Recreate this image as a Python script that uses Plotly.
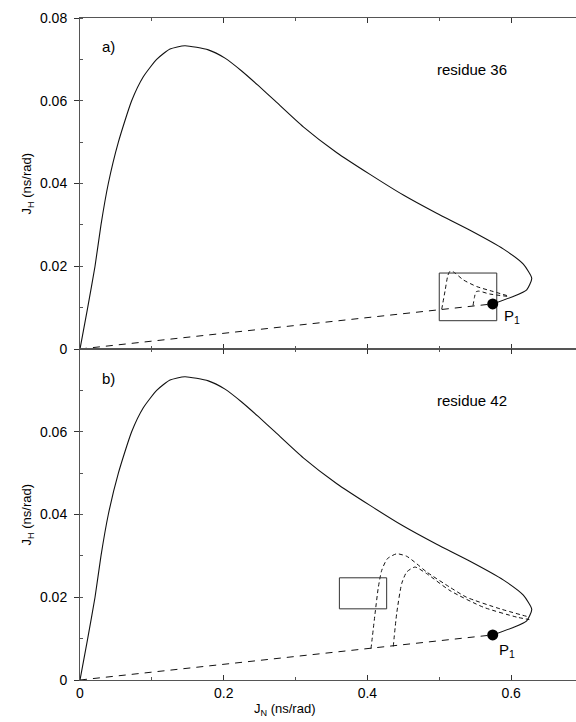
import plotly.graph_objects as go

# ---- data ----
# solid curve J_N vs J_H (same in both panels)
curve_jn = [0.0, 0.0107, 0.0209, 0.0292, 0.0394, 0.0534, 0.0719, 0.0881, 0.1067, 0.1253,
            0.146, 0.1786, 0.2018, 0.225, 0.248, 0.270, 0.3108, 0.357, 0.4036, 0.450,
            0.4964, 0.5428, 0.589, 0.617, 0.6287, 0.6217, 0.603, 0.5744]
curve_jh = [0.0, 0.010, 0.020, 0.030, 0.040, 0.050, 0.060, 0.0658, 0.0700, 0.0725,
            0.0733, 0.0723, 0.0703, 0.0672, 0.0637, 0.0602, 0.0537, 0.0475, 0.0422, 0.0372,
            0.0328, 0.0287, 0.0242, 0.0205, 0.0171, 0.0143, 0.0127, 0.0109]

p1_jn = [0.5744]
p1_jh = [0.0109]

# straight dashed line from origin to P1
line_jn = [0.0, 0.5744]
line_jh = [0.0, 0.0109]

# panel a) dashed curves (residue 36)
a1_jn = [0.5034, 0.508, 0.512, 0.515, 0.520, 0.5335, 0.552, 0.575, 0.5985]
a1_jh = [0.0096, 0.0140, 0.0178, 0.0188, 0.0186, 0.0167, 0.0151, 0.0139, 0.0127]
a2_jn = [0.547, 0.549, 0.551, 0.555, 0.570, 0.596]
a2_jh = [0.0105, 0.0125, 0.0138, 0.0140, 0.0133, 0.0127]
box_a_jn = [0.500, 0.580, 0.580, 0.500, 0.500]
box_a_jh = [0.00684, 0.00684, 0.01836, 0.01836, 0.00684]

# panel b) dashed curves (residue 42)
b1_jn = [0.405, 0.4106, 0.4152, 0.4199, 0.4277, 0.4407, 0.4547, 0.4686, 0.4825, 0.515, 0.538, 0.5846, 0.6254]
b1_jh = [0.00754, 0.0160, 0.0224, 0.0265, 0.0293, 0.0305, 0.0299, 0.0281, 0.0261, 0.0224, 0.0200, 0.0172, 0.0152]
b2_jn = [0.436, 0.4407, 0.4477, 0.4547, 0.4662, 0.4825, 0.515, 0.5613, 0.6078, 0.6254]
b2_jh = [0.0081, 0.0160, 0.0233, 0.0261, 0.0273, 0.0257, 0.0216, 0.0176, 0.0152, 0.0146]
box_b_jn = [0.361, 0.4268, 0.4268, 0.361, 0.361]
box_b_jh = [0.0172, 0.0172, 0.0247, 0.0247, 0.0172]

x_ticks = [0, 0.2, 0.4, 0.6]
x_ticktext = ["0", "0.2", "0.4", "0.6"]
y_ticks_top = [0, 0.02, 0.04, 0.06, 0.08]
y_ticktext_top = ["0", "0.02", "0.04", "0.06", "0.08"]
y_ticks_bot = [0, 0.02, 0.04, 0.06]
y_ticktext_bot = ["0", "0.02", "0.04", "0.06"]

FONT = "Liberation Sans, Arial, Helvetica, sans-serif"
INK = "#111111"

fig = go.Figure()

def add_panel(xa, ya, extra_curves, box_x, box_y):
    fig.add_trace(go.Scatter(x=line_jn, y=line_jh, mode="lines", xaxis=xa, yaxis=ya,
                             line=dict(color=INK, width=1, dash="7px,6px")))
    for cx, cy in extra_curves:
        fig.add_trace(go.Scatter(x=cx, y=cy, mode="lines", xaxis=xa, yaxis=ya,
                                 line=dict(color=INK, width=1, dash="4px,3px",
                                           shape="spline", smoothing=0.6)))
    fig.add_trace(go.Scatter(x=box_x, y=box_y, mode="lines", xaxis=xa, yaxis=ya,
                             line=dict(color="#333333", width=1)))
    fig.add_trace(go.Scatter(x=curve_jn, y=curve_jh, mode="lines", xaxis=xa, yaxis=ya,
                             line=dict(color=INK, width=1.1, shape="spline", smoothing=0.55)))
    fig.add_trace(go.Scatter(x=p1_jn, y=p1_jh, mode="markers", xaxis=xa, yaxis=ya,
                             marker=dict(color="black", size=11)))

add_panel("x", "y", [(a1_jn, a1_jh), (a2_jn, a2_jh)], box_a_jn, box_a_jh)
add_panel("x2", "y2", [(b1_jn, b1_jh), (b2_jn, b2_jh)], box_b_jn, box_b_jh)

XR = [0, 0.6903]
axis_common = dict(showgrid=False, zeroline=False, showline=True, linecolor="#555555",
                   linewidth=1, tickcolor="#333333", tickfont=dict(family=FONT, size=14, color="black"))

fig.update_layout(
    width=576, height=722,
    margin=dict(l=80, r=0, t=18, b=42),
    paper_bgcolor="white", plot_bgcolor="white",
    showlegend=False,
    xaxis=dict(domain=[0, 1], anchor="y", range=XR, tickvals=x_ticks, showticklabels=False,
               ticks="inside", ticklen=5, mirror="ticks",
               minor=dict(dtick=0.1, tick0=0, ticks="inside", ticklen=3, tickcolor="#555555"),
               **axis_common),
    yaxis=dict(domain=[0.5, 1], anchor="x", range=[0, 0.08], tickvals=y_ticks_top,
               ticktext=y_ticktext_top, ticks="outside", ticklen=5, ticklabelstandoff=4,
               minor=dict(dtick=0.01, tick0=0, ticks="inside", ticklen=3, tickcolor="#555555"),
               **axis_common),
    xaxis2=dict(domain=[0, 1], anchor="y2", range=XR, tickvals=x_ticks, ticktext=x_ticktext,
                ticks="inside", ticklen=5, mirror="ticks",
                minor=dict(dtick=0.1, tick0=0, ticks="inside", ticklen=3, tickcolor="#555555"),
                **axis_common),
    yaxis2=dict(domain=[0, 0.5], anchor="x2", range=[0, 0.08], tickvals=y_ticks_bot,
                ticktext=y_ticktext_bot, ticks="outside", ticklen=5, ticklabelstandoff=4,
                minor=dict(dtick=0.01, tick0=0, ticks="inside", ticklen=3, tickcolor="#555555"),
                **axis_common),
)

ann_font = dict(family=FONT, size=15, color="black")
anns = [
    dict(text="a)", x=0.028, y=0.0731, xref="x", yref="y", xanchor="left", yanchor="middle", font=ann_font),
    dict(text="b)", x=0.028, y=0.0728, xref="x2", yref="y2", xanchor="left", yanchor="middle", font=ann_font),
    dict(text="residue 36", x=0.494, y=0.0676, xref="x", yref="y", xanchor="left", yanchor="middle", font=ann_font),
    dict(text="residue 42", x=0.494, y=0.0676, xref="x2", yref="y2", xanchor="left", yanchor="middle", font=ann_font),
    dict(text="P<sub>1</sub>", x=0.587, y=0.0078, xref="x", yref="y", xanchor="left", yanchor="middle", font=ann_font),
    dict(text="P<sub>1</sub>", x=0.580, y=0.0071, xref="x2", yref="y2", xanchor="left", yanchor="middle", font=ann_font),
    dict(text="J<sub>H</sub> (ns/rad)", x=-0.105, y=0.5, xref="paper", yref="y domain",
         textangle=-90, xanchor="center", yanchor="middle", font=dict(family=FONT, size=13, color="black")),
    dict(text="J<sub>H</sub> (ns/rad)", x=-0.105, y=0.5, xref="paper", yref="y2 domain",
         textangle=-90, xanchor="center", yanchor="middle", font=dict(family=FONT, size=13, color="black")),
    dict(text="J<sub>N</sub> (ns/rad)", x=0.413, y=-0.045, xref="paper", yref="paper",
         xanchor="center", yanchor="middle", font=dict(family=FONT, size=13, color="black")),
]
for a in anns:
    a["showarrow"] = False
fig.update_layout(annotations=anns)

fig.write_html("out.html")
